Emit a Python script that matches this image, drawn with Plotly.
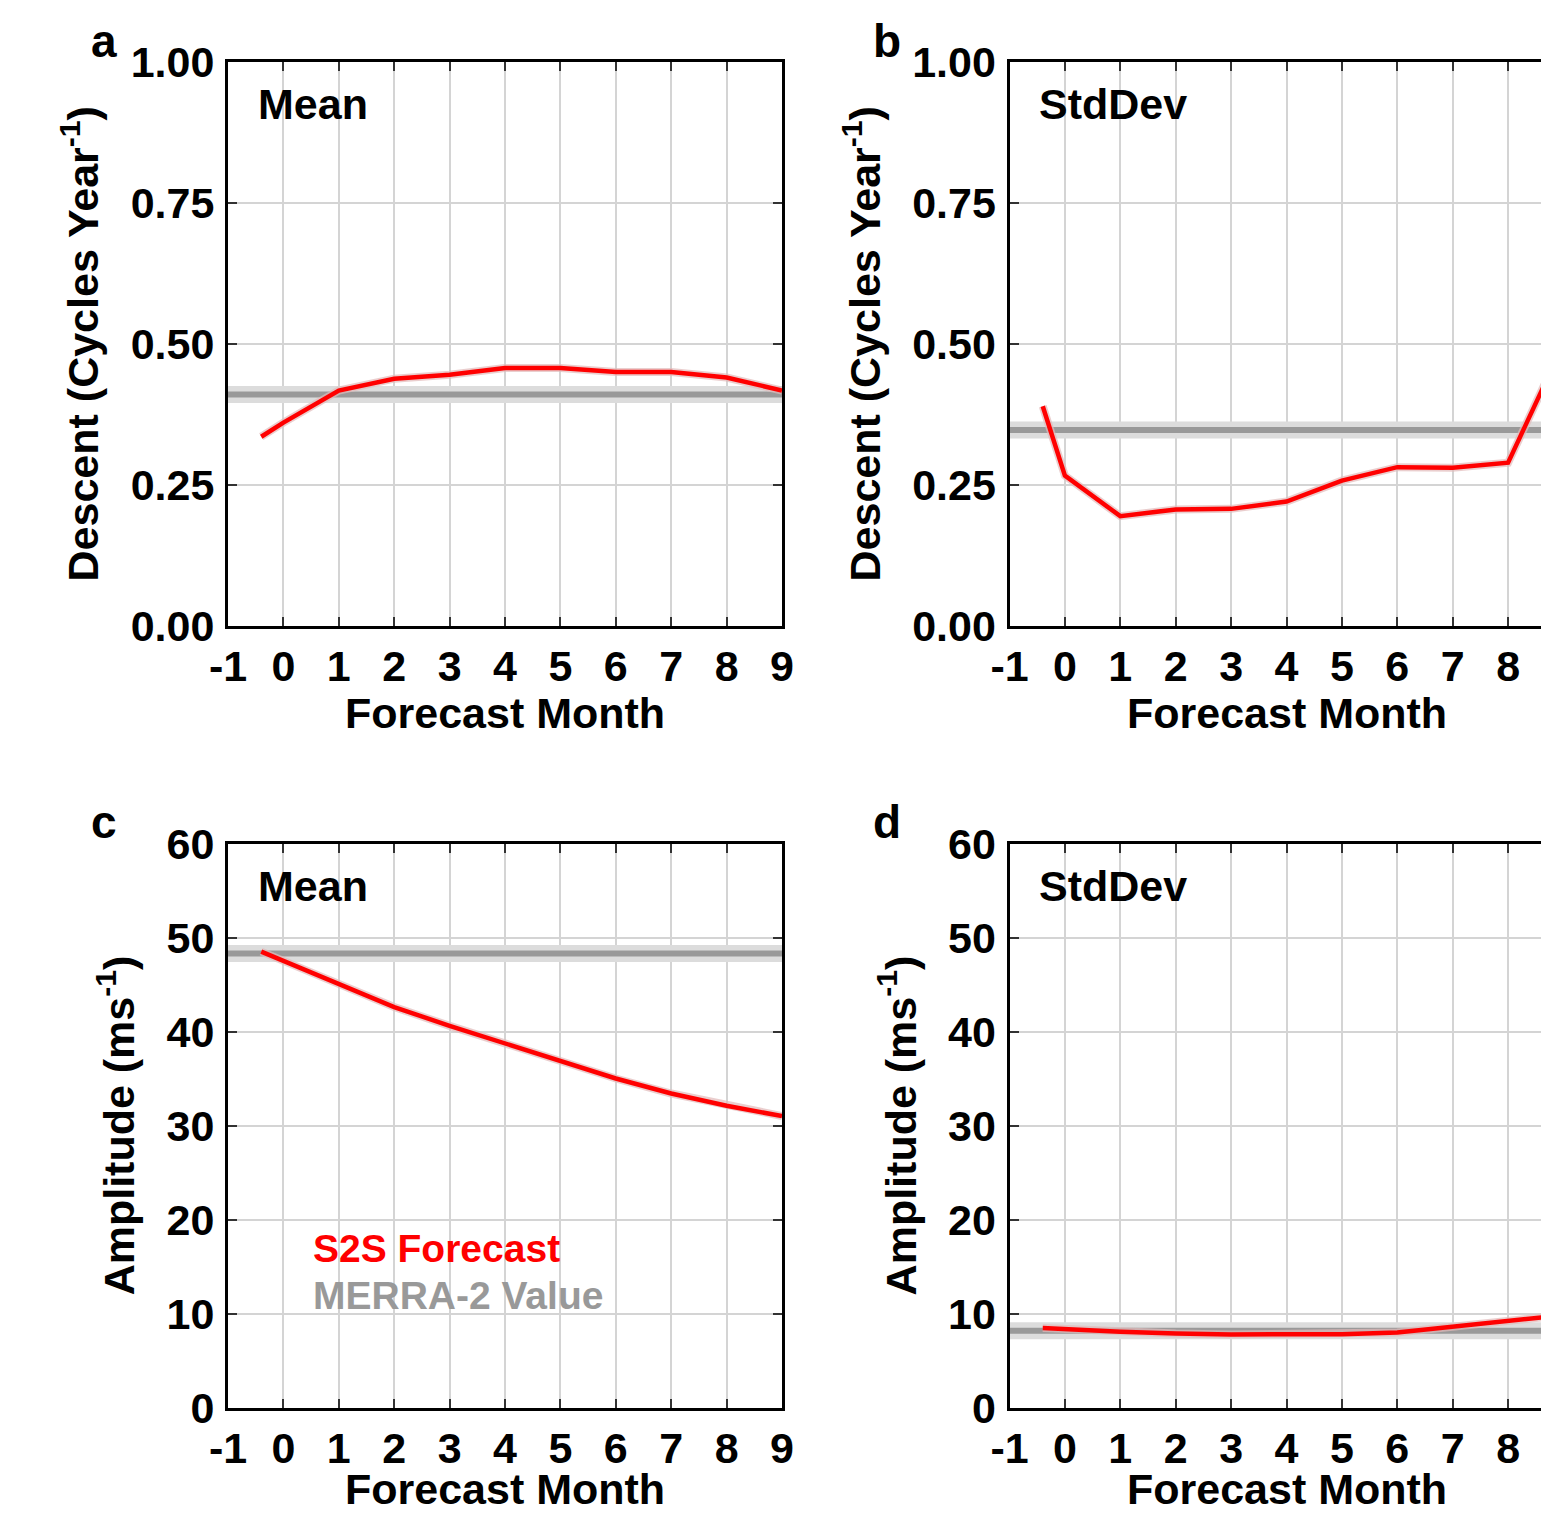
import plotly.graph_objects as go

# ---------------- data ----------------
forecast_month = [-0.4, 0, 1, 2, 3, 4, 5, 6, 7, 8, 9]
descent_mean = [0.335, 0.36, 0.417, 0.438, 0.445, 0.457, 0.457, 0.450, 0.450, 0.440, 0.417]
descent_std = [0.389, 0.266, 0.194, 0.206, 0.207, 0.220, 0.257, 0.281, 0.280, 0.289, 0.50]
amplitude_mean = [48.5, 47.5, 45.0, 42.6, 40.6, 38.7, 36.9, 35.0, 33.4, 32.1, 31.0]
amplitude_std = [8.47, 8.34, 8.05, 7.88, 7.77, 7.80, 7.80, 7.98, 8.58, 9.11, 9.83]
merra_x = [-1, 9]
merra_descent_mean = 0.41
merra_descent_std = 0.347
merra_amplitude_mean = 48.3
merra_amplitude_std = 8.16
x_ticks = [-1, 0, 1, 2, 3, 4, 5, 6, 7, 8, 9]
x_ticktext = ["-1", "0", "1", "2", "3", "4", "5", "6", "7", "8", "9"]
x_title = "Forecast Month"
panel_letters = ["a", "b", "c", "d"]
panel_stats = ["Mean", "StdDev", "Mean", "StdDev"]

# ---------------- layout geometry ----------------
W, H = 1541, 1515
def fx(px):
    return px / W
def fy(py):
    return 1 - py / H

LEFT_X = (228, 782)
RIGHT_X0 = 1009.5
UNIT = (LEFT_X[1] - LEFT_X[0]) / 10.0
right_xmax = -1 + (W - RIGHT_X0) / UNIT
TOP_Y = (62, 625.5)
BOT_Y = (843.5, 1407.5)

FONT = "Liberation Sans"
bold = dict(family=FONT, size=43, color="black", weight="bold")

fig = go.Figure()

panels = [
    ("x", "y", descent_mean, merra_descent_mean),
    ("x2", "y2", descent_std, merra_descent_std),
    ("x3", "y3", amplitude_mean, merra_amplitude_mean),
    ("x4", "y4", amplitude_std, merra_amplitude_std),
]
for xa, ya, series, mval in panels:
    fig.add_trace(go.Scatter(x=merra_x, y=[mval, mval], mode="lines",
                             line=dict(color="#dcdcdc", width=17),
                             xaxis=xa, yaxis=ya, showlegend=False, hoverinfo="skip"))
    fig.add_trace(go.Scatter(x=merra_x, y=[mval, mval], mode="lines",
                             line=dict(color="#999999", width=6),
                             xaxis=xa, yaxis=ya, showlegend=False, hoverinfo="skip"))
    fig.add_trace(go.Scatter(x=forecast_month, y=series, mode="lines",
                             line=dict(color="rgba(225,185,185,0.7)", width=8),
                             xaxis=xa, yaxis=ya, showlegend=False, hoverinfo="skip"))
    fig.add_trace(go.Scatter(x=forecast_month, y=series, mode="lines",
                             line=dict(color="#ff0000", width=4.5),
                             xaxis=xa, yaxis=ya, showlegend=False, hoverinfo="skip"))

common = dict(showline=True, linecolor="black", linewidth=3,
              ticks="inside", ticklen=9, tickwidth=2, tickcolor="#333333",
              showgrid=True, gridcolor="#d4d4d4", gridwidth=1.5, zeroline=False,
              tickfont=bold, fixedrange=True, automargin=False)

def xaxis(domain, xmax, anchor):
    return dict(common, domain=domain, range=[-1, xmax], anchor=anchor,
                tickvals=x_ticks, ticktext=x_ticktext, mirror="ticks",
                ticklabelstandoff=1)

def yaxis(domain, rng, dtick, fmt, title, anchor, mirror):
    return dict(common, domain=domain, range=rng, anchor=anchor, dtick=dtick,
                tick0=0, tickformat=fmt, mirror=mirror, ticklabelstandoff=2,
                title=dict(text=title, font=bold, standoff=19))

dl = [fx(LEFT_X[0]), fx(LEFT_X[1])]
dr = [fx(RIGHT_X0), 1.0]
dt = [fy(TOP_Y[1]), fy(TOP_Y[0])]
db = [fy(BOT_Y[1]), fy(BOT_Y[0])]
desc_title = "Descent (Cycles Year<sup>-1</sup>)"
amp_title = "Amplitude (ms<sup>-1</sup>)"

fig.update_layout(
    width=W, height=H, autosize=False,
    margin=dict(l=0, r=0, t=0, b=0, pad=0),
    paper_bgcolor="white", plot_bgcolor="white",
    showlegend=False,
    xaxis=xaxis(dl, 9, "y"),
    xaxis2=xaxis(dr, right_xmax, "y2"),
    xaxis3=xaxis(dl, 9, "y3"),
    xaxis4=xaxis(dr, right_xmax, "y4"),
    yaxis=yaxis(dt, [0, 1], 0.25, ".2f", desc_title, "x", "ticks"),
    yaxis2=yaxis(dt, [0, 1], 0.25, ".2f", desc_title, "x2", False),
    yaxis3=yaxis(db, [0, 60], 10, "d", amp_title, "x3", "ticks"),
    yaxis4=yaxis(db, [0, 60], 10, "d", amp_title, "x4", False),
)

# x-axis titles, centred on the full (uncropped) panel width
xtitle_pos = [(505, fy(713), "middle"), (RIGHT_X0 + 5 * UNIT, fy(713), "middle"),
              (505, 0.0, "bottom"), (RIGHT_X0 + 5 * UNIT, 0.0, "bottom")]
for px, yy, yanc in xtitle_pos:
    fig.add_annotation(text=x_title, x=fx(px), y=yy, xref="paper", yref="paper",
                       xanchor="center", yanchor=yanc, showarrow=False, font=bold)

# panel letters
letter_pos = [(104, 41), (887, 41), (104, 822), (887, 822)]
for letter, (px, py) in zip(panel_letters, letter_pos):
    fig.add_annotation(text=letter, x=fx(px), y=fy(py), xref="paper", yref="paper",
                       xanchor="center", yanchor="middle", showarrow=False,
                       font=dict(family=FONT, size=46, color="black", weight="bold"))

# statistic labels inside panels
axes_refs = ["x", "x2", "x3", "x4"]
for stat, ref in zip(panel_stats, axes_refs):
    fig.add_annotation(text=stat, x=0.051, y=0.925,
                       xref=f"{ref} domain", yref=f"{ref.replace('x', 'y')} domain",
                       xanchor="left", yanchor="middle", showarrow=False, font=bold)

# legend text in panel c
fig.add_annotation(text="S2S Forecast", x=0.5, y=16.9, xref="x3", yref="y3",
                   xanchor="left", yanchor="middle", showarrow=False,
                   font=dict(family=FONT, size=39, color="#ff0000", weight="bold"))
fig.add_annotation(text="MERRA-2 Value", x=0.5, y=11.9, xref="x3", yref="y3",
                   xanchor="left", yanchor="middle", showarrow=False,
                   font=dict(family=FONT, size=39, color="#999999", weight="bold"))

fig.write_html("out.html")
